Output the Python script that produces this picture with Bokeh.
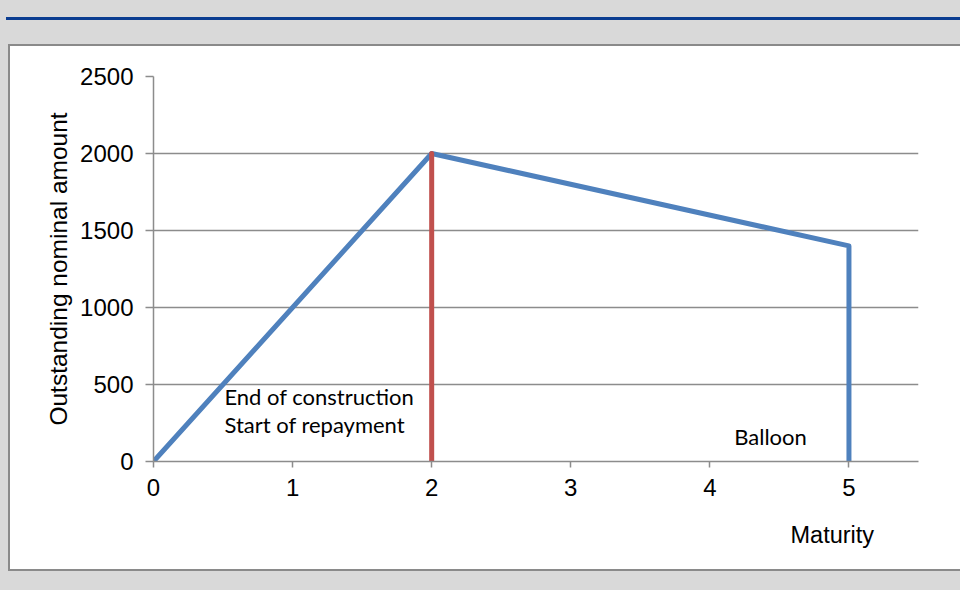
from bokeh.plotting import figure
from bokeh.models import Range1d, FixedTicker, ColumnDataSource, Title
from bokeh.embed import file_html
from bokeh.resources import INLINE
from bokeh.core.properties import value

# ---- data ----
maturity = [0, 2, 5, 5]
outstanding = [0, 2000, 1400, 0]
repay_start_x = [2, 2]
repay_start_y = [0, 2000]
x_ticks = [0, 1, 2, 3, 4, 5]
y_ticks = [0, 500, 1000, 1500, 2000, 2500]
note_texts = ["End of construction", "Start of repayment", "Balloon"]
note_x = [0.51, 0.51, 4.175]
note_y = [422, 240, 162]

GRAY = "#8c8c8c"
FONT = "Liberation Sans"

p = figure(width=960, height=590, output_backend="svg", toolbar_location=None,
           x_range=Range1d(0, 5.5), y_range=Range1d(0, 2500),
           min_border_left=153, min_border_right=42, min_border_top=76, min_border_bottom=129)
p.border_fill_alpha = 0.0
p.background_fill_color = "white"
p.outline_line_color = None
# page backdrop: grey sheet, blue header rule, white chart box with grey border
p.styles = {
    "background": (
        "linear-gradient(#ffffff,#ffffff) 10px 46px / 960px 523px no-repeat, "
        "linear-gradient(#8a8a8a,#8a8a8a) 8px 44px / 962px 527px no-repeat, "
        "linear-gradient(#0b3d91,#0b3d91) 6px 17px / 960px 3px no-repeat, "
        "#d9d9d9"
    )
}

# grid
p.xgrid.visible = False
p.ygrid.ticker = FixedTicker(ticks=y_ticks)
p.ygrid.grid_line_color = GRAY
p.ygrid.grid_line_width = 1.5

# axes
p.xaxis.ticker = FixedTicker(ticks=x_ticks)
p.yaxis.ticker = FixedTicker(ticks=y_ticks)
for ax in (p.xaxis[0], p.yaxis[0]):
    ax.axis_line_color = GRAY
    ax.axis_line_width = 1.5
    ax.major_tick_line_color = GRAY
    ax.major_tick_line_width = 1.5
    ax.minor_tick_line_color = None
    ax.major_tick_in = 0
    ax.major_label_text_font = FONT
    ax.major_label_text_font_size = "24px"
    ax.major_label_text_color = "black"
p.xaxis.major_tick_out = 6
p.yaxis.major_tick_out = 8
p.xaxis.major_label_standoff = 11
p.yaxis.major_label_standoff = 12

p.yaxis.axis_label = "Outstanding nominal amount"
p.yaxis.axis_label_text_font = FONT
p.yaxis.axis_label_text_font_size = "24.5px"
p.yaxis.axis_label_text_font_style = "normal"
p.yaxis.axis_label_text_color = "black"
p.yaxis.axis_label_standoff = 5

# x-axis caption, right of centre below the axis
cap = Title(text="Maturity", align="left", offset=637, standoff=42,
            text_font=FONT, text_font_size="23.5px", text_font_style="normal",
            text_color="black")
p.add_layout(cap, "below")

# lines
src = ColumnDataSource(dict(x=maturity, y=outstanding))
p.line("x", "y", source=src, line_color="#4F81BD", line_width=5, line_join="round")
p.line(repay_start_x, repay_start_y, line_color="#C0504D", line_width=5, line_cap="round")

# notes
note_src = ColumnDataSource(dict(x=note_x, y=note_y, t=note_texts))
p.text("x", "y", text="t", source=note_src, text_font=value("Lato"), text_font_size="22px",
       text_color="black", text_baseline="alphabetic", text_align="left")

open("out.html", "w").write(file_html(p, INLINE))
